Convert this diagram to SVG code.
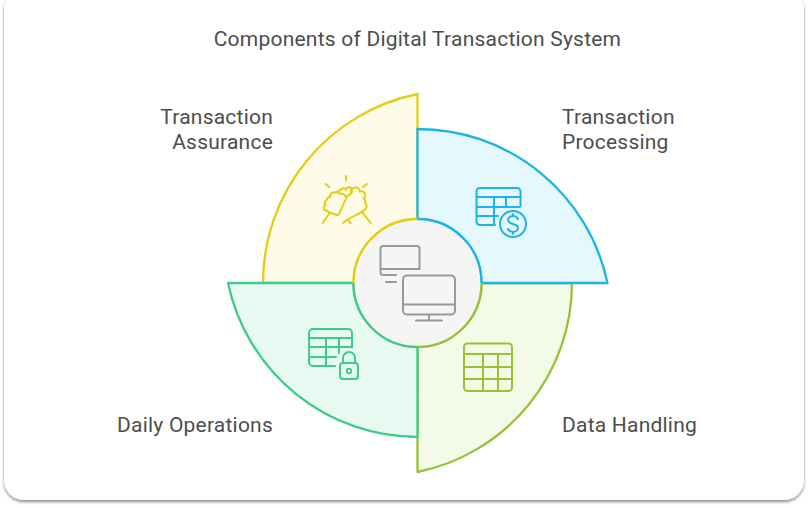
<svg xmlns="http://www.w3.org/2000/svg" width="808" height="508" viewBox="0 0 808 508">
<style>
text{font-family:Roboto,"Liberation Sans",sans-serif;font-size:21px;fill:#4d4d4d;letter-spacing:.22px}
.q{stroke-width:2.3;stroke-linejoin:round}
.i{fill:none;stroke-width:2;stroke-linecap:round;stroke-linejoin:round}
.y{stroke:#e6cc14}.b{stroke:#1cb3e6}.g{stroke:#97c232}.m{stroke:#3ecb8b}.k{stroke:#999}
.a{fill:none;stroke-width:2.300}
</style>
<defs>
<filter id="sh" x="-3%" y="-3%" width="106%" height="108%"><feDropShadow dx="0" dy="2" stdDeviation="1.800" flood-color="#000" flood-opacity=".45"/></filter>
</defs>
<rect width="808" height="508" fill="#fff"/>
<rect id="card" x="4" y="-10" width="800" height="510" rx="20" fill="#fff" filter="url(#sh)"/>
<text id="title" x="417.500" y="46" text-anchor="middle">Components of Digital Transaction System</text>
<g id="connectors"></g>
<g id="node-assurance">
<path class="q y" fill="#fefce8" d="M417.500 94A193 193 0 0 0 263 283H353.500A64 64 0 0 1 417.500 219Z"/>
<g class="i y"><path d="M346 176v4.500M325.700 184l3.600 3.300M367 184l-4 3.300M322.700 223l7.300-10.300M370.700 223l-9-11.300M343 223l4.700-3.700 3 3.700M347.700 219.300l13-6.600"/><path d="M330 212.700l6.700 2.300q2.300.5 3.300-3.300l5.700-12.400q1.300-3-2.400-5.300l-5-.7A3 3 0 0 0 334 192.700 3 3 0 0 0 330.700 197.300 3 3 0 0 0 326.700 200 3 3 0 0 0 325.700 205 3 3 0 0 0 324 209.300z"/><path d="M337.300 191.700l5.400-3.400a2.500 2.500 0 0 1 3.300 1.700 2.500 2.500 0 0 1 5.700.3 2.500 2.500 0 0 1-1 3.300l-4 3"/><path d="M351 192.500A4 4 0 0 1 360 191.700 3.500 3.500 0 0 1 363.300 198.300 3.500 3.500 0 0 1 365 203.300 3.500 3.500 0 0 1 365 209.300l-4.300 3.400"/></g>
<text x="273" y="124" text-anchor="end">Transaction</text><text x="273" y="149" text-anchor="end">Assurance</text>
</g>
<g id="node-handling">
<path class="q g" fill="#f4fae8" d="M572 283A193 193 0 0 1 417.500 472V347A64 64 0 0 0 481.500 283Z"/>
<g class="i g"><rect x="464" y="343.500" width="48" height="47.500" rx="3.500"/><path d="M464 354h48M464 367h48M464 379h48M483 354v37M498 354v37"/></g>
<text x="562" y="432">Data Handling</text>
</g>
<g id="node-processing">
<path class="q b" fill="#e5f8fe" d="M417.500 129A194 194 0 0 1 607.500 283H481.500A64 64 0 0 0 417.500 219Z"/>
<g class="i b"><path d="M495 225h-15a3.500 3.500 0 0 1-3.500-3.500V191.500a3.500 3.500 0 0 1 3.500-3.500h37a3.500 3.500 0 0 1 3.500 3.500V206"/><path d="M477 197h43M477 207h43M477 216h21M494 197v28M506 197v10"/><circle cx="513" cy="224" r="13"/><path d="M518 219c-1-2-3-3-5-3-3 0-5 2-5 4 0 5 10 3 10 8 0 2-2 4-5 4-2 0-4-1-5-3M513 214v2M513 232v2"/></g>
<text x="562" y="124">Transaction</text><text x="562" y="149">Processing</text>
</g>
<g id="node-operations">
<path class="q m" fill="#e8f9f2" d="M228 283A194 194 0 0 0 417.500 437V347A64 64 0 0 1 353.500 283Z"/>
<g class="i m"><path d="M335 366h-22a4 4 0 0 1-4-4V333a4 4 0 0 1 4-4h35a4 4 0 0 1 4 4v14"/><path d="M309 338h43M309 347h43M309 357h27M326 338v28M339 338v15"/><rect x="340" y="363" width="18" height="16" rx="3"/><path d="M343 363v-5a6 6 0 0 1 12 0v5"/><circle cx="349" cy="371" r="2.200"/></g>
<text x="273" y="432" text-anchor="end">Daily Operations</text>
</g>
<g id="node-center">
<circle cx="417.500" cy="283" r="64" fill="#f5f5f5"/>
<path class="a y" d="M353.500 283A64 64 0 0 1 417.500 219"/>
<path class="a b" d="M417.500 219A64 64 0 0 1 481.500 283"/>
<path class="a g" d="M481.500 283A64 64 0 0 1 417.500 347"/>
<path class="a m" d="M417.500 347A64 64 0 0 1 353.500 283"/>
<g class="i k"><path d="M396 275h-13a2.500 2.500 0 0 1-2.500-2.500V248.500a2.500 2.500 0 0 1 2.500-2.500h34a2.500 2.500 0 0 1 2.500 2.500V269H381"/><path d="M386 282h10"/><rect x="403" y="275.500" width="52" height="39" rx="4"/><path d="M403 304.500h52M429 314.500v6M416 320.500h26"/></g>
</g>
</svg>
